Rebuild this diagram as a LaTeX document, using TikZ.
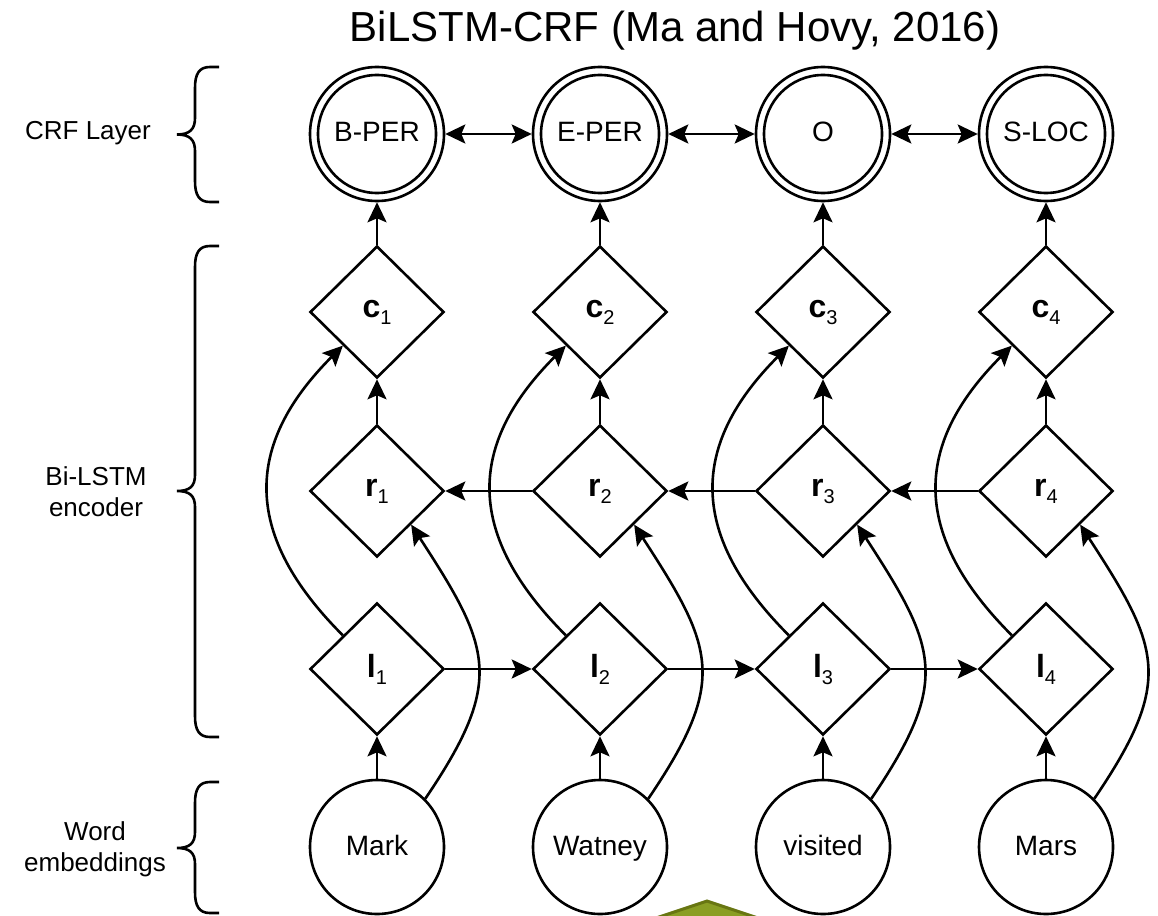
\documentclass[tikz,border=0pt]{standalone}
\usepackage{fontspec}
\setmainfont{Liberation Sans}
\usetikzlibrary{arrows.meta,shapes.geometric}
\definecolor{olivefill}{RGB}{138,158,36}
\definecolor{oliveline}{RGB}{104,118,18}
\newcommand\cellab[2]{\textbf{#1}\raisebox{-7pt}{\fontsize{20}{20}\selectfont #2}}
\begin{document}
\begin{tikzpicture}[x=1pt,y=1pt,
  ln/.style={line width=2.6pt},
  arr/.style={ln,-{Stealth[length=20pt,width=19pt,inset=4pt]}},
  biarr/.style={ln,{Stealth[length=20pt,width=19pt,inset=4pt]}-{Stealth[length=20pt,width=19pt,inset=4pt]}},
  cell/.style={diamond,draw,ln,minimum width=134pt,minimum height=132pt,inner sep=0pt,font=\fontsize{32}{32}\selectfont},
  word/.style={circle,draw,ln,minimum size=134pt,inner sep=0pt,text height=20pt,text depth=4pt,font=\fontsize{28}{28}\selectfont},
  tagc/.style={word},
  side/.style={align=center,font=\fontsize{26}{31}\selectfont}
]
\useasboundingbox (0,0) rectangle (1158,-915);

% green shape at the bottom
\filldraw[fill=olivefill,draw=oliveline,line width=3pt] (620,-930) -- (707,-901) -- (794,-930) -- cycle;

\node[font=\fontsize{42}{42}\selectfont,anchor=base] (title) at (675,-42) {BiLSTM-CRF (Ma and Hovy, 2016)};

\foreach \i/\x/\wordname/\tagname in {1/377/Mark/B-PER,2/600/Watney/E-PER,3/823/visited/O,4/1046/Mars/S-LOC}{
  \node[tagc] (t\i) at (\x,-134) {\tagname};
  \draw[ln] (t\i.center) circle[radius=59pt];
  \node[cell] (c\i) at (\x,-312) {\cellab{c}{\i}};
  \node[cell] (r\i) at (\x,-491) {\cellab{r}{\i}};
  \node[cell] (l\i) at (\x,-669) {\cellab{l}{\i}};
  \node[word] (w\i) at (\x,-847) {\wordname};
  \draw[arr] (w\i.north) -- (l\i.south);
  \draw[arr] (r\i.north) -- (c\i.south);
  \draw[arr] (c\i.north) -- (t\i.south);
  \draw[arr] (l\i.north west) .. controls +(-100,100) and +(-100,-100) .. (c\i.south west);
  \draw[arr] (w\i.north east) .. controls +(80,118) and +(80,-123) .. (r\i.south east);
}
\foreach \i/\j in {1/2,2/3,3/4}{
  \draw[arr] (l\i.east) -- (l\j.west);
  \draw[arr] (r\j.west) -- (r\i.east);
  \draw[biarr] (t\i.east) -- (t\j.west);
}

% braces
\draw[ln] (219,-67) -- (210,-67) .. controls (199,-67) and (195,-74) .. (195,-88) -- (195,-118)
  .. controls (195,-129) and (190,-134.5) .. (177,-134.5)
  (177,-134.5) .. controls (190,-134.5) and (195,-140) .. (195,-151) -- (195,-181)
  .. controls (195,-195) and (199,-202) .. (210,-202) -- (219,-202);
\draw[ln] (219,-246) -- (210,-246) .. controls (199,-246) and (195,-253) .. (195,-267) -- (195,-475)
  .. controls (195,-486) and (190,-491) .. (177,-491)
  (177,-491) .. controls (190,-491) and (195,-496) .. (195,-507) -- (195,-716)
  .. controls (195,-730) and (199,-737) .. (210,-737) -- (219,-737);
\draw[ln] (219,-782) -- (210,-782) .. controls (199,-782) and (195,-789) .. (195,-803) -- (195,-832)
  .. controls (195,-843) and (190,-848) .. (177,-848)
  (177,-848) .. controls (190,-848) and (195,-853) .. (195,-864) -- (195,-892)
  .. controls (195,-906) and (199,-913) .. (210,-913) -- (219,-913);

\node[side] (labcrf) at (88,-133) {CRF Layer};
\node[side] (labenc) at (96,-492) {Bi-LSTM\\encoder};
\node[side] (labemb) at (95,-849) {Word\\embeddings};
\end{tikzpicture}
\end{document}
